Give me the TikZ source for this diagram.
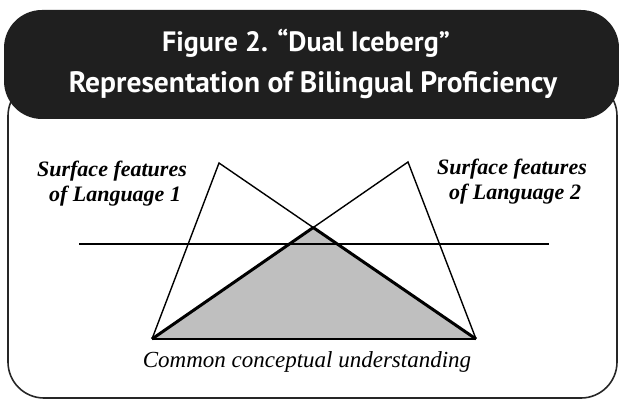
\documentclass[tikz,border=0pt]{standalone}
\usepackage{fontspec}
\setmainfont{Liberation Serif}
\newfontfamily\headfont{PT Sans}
\usetikzlibrary{positioning}

\begin{document}
\begin{tikzpicture}[
    x=1pt, y=-1pt,
    frame/.style={draw=black!85, line width=1.6pt, rounded corners=36pt},
    header/.style={fill=black!88, rounded corners=38pt},
    title/.style={text=white, font=\headfont\bfseries\fontsize{29.5}{41}\selectfont, anchor=base, inner sep=0pt},
    label/.style={font=\bfseries\itshape\fontsize{22}{25}\selectfont, anchor=base, inner sep=0pt},
    thin/.style={line width=1.4pt},
    bold/.style={line width=3pt, line join=round},
    shade/.style={fill=black!25}
]
\useasboundingbox (0,0) rectangle (619,401);
\draw[frame] (8,80) rectangle (617,398);
\fill[header] (4,10) rectangle (619,119);
\node[title, font=\headfont\bfseries\fontsize{28}{41}\selectfont] (title1) at (306,52) {Figure 2. “Dual Iceberg”};
\node[title] (title2) at (313,93) {Representation of Bilingual Proficiency};

\coordinate (a) at (152,339);
\coordinate (b) at (476,339);
\coordinate (p1) at (219,163);
\coordinate (p2) at (408,162);
\coordinate (c) at (intersection of a--p2 and p1--b);
\coordinate (w1) at (79,244);
\coordinate (w2) at (549,244);

\fill[shade] (a) -- (c) -- (b) -- cycle;
\draw[thin] (w1) -- (w2);
\draw[thin] (a) -- (p1) -- (c);
\draw[thin] (b) -- (p2) -- (c);
\draw[line width=2pt] (a) -- (b);
\draw[bold] (a) -- (c) -- (b);

\node[label] (surf1) at (112,177) {Surface features};
\node[label] (lang1) at (115,202) {of Language 1};
\node[label] (surf2) at (512,175) {Surface features};
\node[label] (lang2) at (515,200) {of Language 2};
\node[font=\itshape\fontsize{23}{25}\selectfont, anchor=base, inner sep=0pt] (common) at (307,367) {Common conceptual understanding};
\end{tikzpicture}
\end{document}
